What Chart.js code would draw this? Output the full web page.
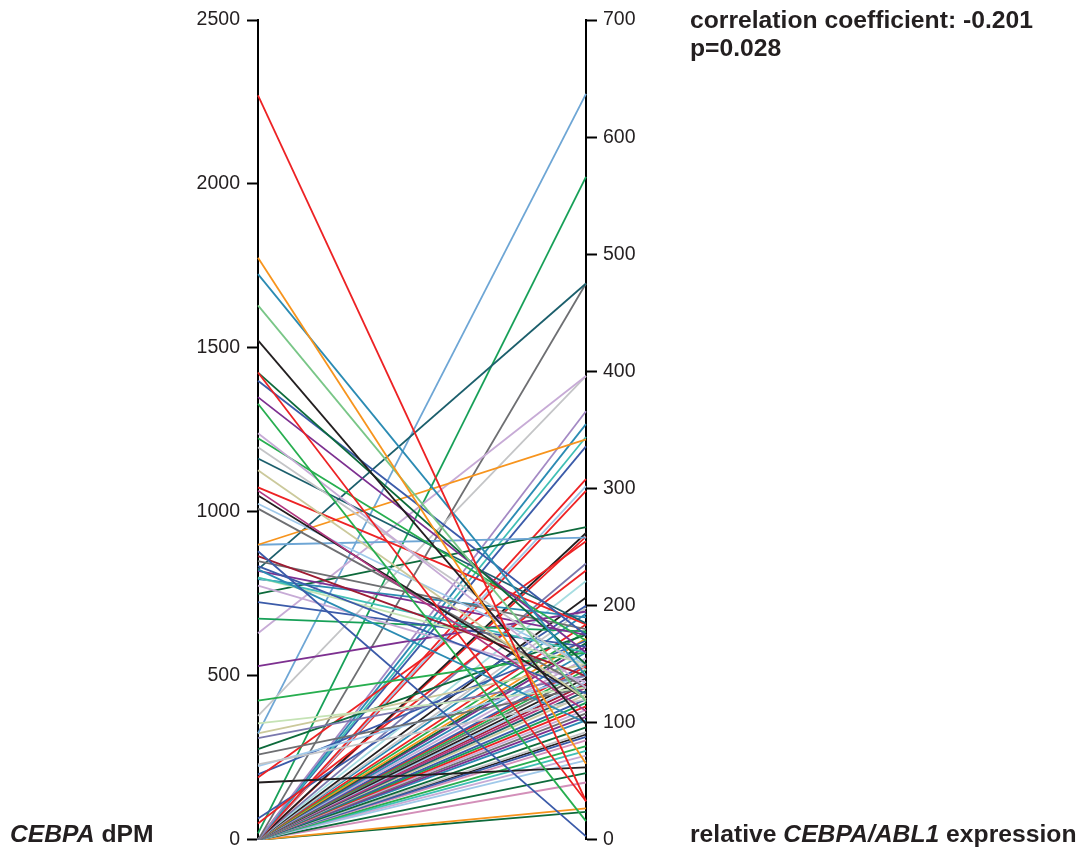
<!DOCTYPE html>
<html>
<head>
<meta charset="utf-8">
<script src="https://cdn.jsdelivr.net/npm/chart.js@4.4.1/dist/chart.umd.min.js"></script>
<style>
  html, body { margin: 0; padding: 0; background: #fff; overflow: hidden; }
  #wrap { position: relative; width: 1081px; height: 847px; }
  canvas { position: absolute; left: 0; top: 0; }
  .lbl {
    position: absolute; font-family: 'Liberation Sans', Arial, sans-serif;
    font-weight: bold; font-size: 24.7px; color: #231f20; white-space: nowrap;
  }
</style>
</head>
<body>
<div id="wrap">
  <canvas id="chart" width="1081" height="847"></canvas>
  <div class="lbl" style="left:10px; top:822px; line-height:24px;"><i>CEBPA</i> dPM</div>
  <div class="lbl" style="left:690px; top:822px; line-height:24px;">relative <i>CEBPA/ABL1</i> expression</div>
  <div class="lbl" style="left:690px; top:6px; line-height:28px;">correlation coefficient: -0.201<br>p=0.028</div>
</div>
<script>
'use strict'

// CEBPA dPM (left axis) and relative CEBPA/ABL1 expression (right axis), one entry per sample
const leftValues = [
  2270, 1775, 1725, 1630, 1523, 1425, 1425, 1400, 1350, 1330,
  1240, 1225, 1197, 1163, 1127, 1075, 1065, 1050, 1025, 1010,
  900, 900, 880, 865, 850, 835, 825, 825, 820, 800,
  800, 795, 775, 750, 725, 675, 630, 530, 425, 378,
  355, 325, 325, 310, 277, 260, 230, 225, 190, 175,
  200, 50, 65, 20,
  0, 0, 0, 0, 0, 0, 0, 0, 0, 0,
  0, 0, 0, 0, 0, 0, 0, 0, 0, 0,
  0, 0, 0, 0, 0, 0, 0, 0, 0, 0,
  0, 0, 0, 0, 0, 0, 0, 0, 0, 0,
  0, 0, 0, 0, 0, 0, 0, 0, 0, 0,
  0, 0
]
const rightValues = [
  33, 65, 140, 118, 99, 33, 150, 175, 160, 16,
  130, 170, 145, 185, 120, 184, 110, 120, 150, 130,
  342, 258, 3, 140, 180, 125, 475, 100, 175, 160,
  150, 190, 135, 267, 165, 178, 396, 195, 160, 396,
  130, 637, 150, 140, 175, 130, 120, 140, 255, 62,
  170, 230, 200, 566,
  475, 366, 355, 344, 336, 308, 302, 298, 262, 259,
  236, 221, 207, 198, 193, 184, 178, 172, 168, 165,
  160, 155, 150, 148, 145, 142, 138, 135, 130, 127,
  124, 120, 117, 114, 111, 108, 105, 102, 96, 92,
  88, 85, 80, 76, 72, 68, 57, 49, 27, 24,
  90, 133
]
const lineColors = [
  'red', 'orange', 'teal', 'ltgreen', 'black', 'red', 'dkgreen', 'blue', 'purple', 'green',
  'lavender', 'green', 'ltgray', 'dkteal', 'khaki', 'red', 'magenta', 'black', 'ltblue', 'gray',
  'orange', 'steel', 'blue', 'dkred', 'gray', 'blue', 'dkteal', 'teal', 'purple', 'turq',
  'palegreen', 'teal', 'lavender', 'dkgreen', 'blue', 'medgreen', 'lavender', 'purple', 'green', 'ltgray',
  'palegreen', 'steel', 'khaki', 'slate', 'dkgreen', 'gray', 'ltgray', 'ltblue', 'red', 'black',
  'blue', 'red', 'blue', 'medgreen',
  'gray', 'mauve', 'teal', 'turq', 'blue', 'red', 'ltblue', 'red', 'black', 'red',
  'slate', 'cyan', 'black', 'ltgray', 'teal', 'red', 'green', 'orange', 'dkgreen', 'purple',
  'teal', 'lavender', 'blue', 'red', 'green', 'gray', 'black', 'ltblue', 'magenta', 'dkteal',
  'khaki', 'blue', 'medgreen', 'red', 'lavender', 'gray', 'purple', 'teal', 'dkgreen', 'ltgray',
  'blue', 'pink', 'green', 'turq', 'lavender', 'ltblue', 'dkgreen', 'pink', 'orange', 'dkgreen',
  'black', 'dkred'
]
const leftTicks = [0, 500, 1000, 1500, 2000, 2500]
const rightTicks = [0, 100, 200, 300, 400, 500, 600, 700]

const palette = {
  red: '#ed2224', orange: '#f7941d', teal: '#2b8bb3', ltgreen: '#79c687',
  black: '#231f20', dkgreen: '#0d6a3b', blue: '#3b5ba9', purple: '#7d3090',
  green: '#27ae4f', lavender: '#c7abd6', ltgray: '#c4c5c7', dkteal: '#1c5f6c',
  khaki: '#cbc99b', magenta: '#b2367f', ltblue: '#a0c9ea', steel: '#6ea6d5',
  gray: '#6e6f72', cyan: '#a6dde1', slate: '#7a78ad', dkred: '#9e1b32',
  medgreen: '#17a058', pink: '#d38fb9', palegreen: '#c5e3b5', turq: '#3fbfb5',
  mauve: '#a48ac4'
}

const leftMax = leftTicks[leftTicks.length - 1]
const rightMax = rightTicks[rightTicks.length - 1]

function getDatasets () {
  const datasets = []
  leftValues.forEach((left, i) => {
    // right value placed on the left scale so both ends share one y scale
    datasets.push({
      data: [left, rightValues[i] * leftMax / rightMax],
      borderColor: palette[lineColors[i]],
      borderWidth: 1.8,
      pointRadius: 0,
      fill: false,
      tension: 0
    })
  })
  return datasets
}

// tiny lineHeight keeps the label half-height from eating into the bottom padding
const tickFont = { family: "'Liberation Sans', Arial, sans-serif", size: 19.5, lineHeight: 0.01 }

const chart = new Chart(document.getElementById('chart'), {
  type: 'line',
  data: { labels: ['dPM', 'expression'], datasets: getDatasets() },
  options: {
    responsive: false,
    animation: false,
    layout: { padding: { top: 20, bottom: 0, left: 0, right: 0 } },
    plugins: { legend: { display: false }, tooltip: { enabled: false } },
    scales: {
      x: { display: false, offset: false },
      y: {
        position: 'left',
        min: 0,
        max: leftMax,
        afterBuildTicks: scale => { scale.ticks = leftTicks.map(v => ({ value: v })) },
        afterFit: scale => { scale.width = 258 },
        ticks: { color: '#231f20', font: tickFont, padding: 7, callback: v => String(v) },
        grid: { drawOnChartArea: false, tickLength: 11, tickWidth: 2, color: '#000' },
        border: { display: true, color: '#000', width: 2 }
      },
      y2: {
        position: 'right',
        min: 0,
        max: rightMax,
        afterBuildTicks: scale => { scale.ticks = rightTicks.map(v => ({ value: v })) },
        afterFit: scale => { scale.width = 1081 - 586 },
        ticks: { color: '#231f20', font: tickFont, padding: 6, callback: v => String(v) },
        grid: { drawOnChartArea: false, tickLength: 11, tickWidth: 2, color: '#000' },
        border: { display: true, color: '#000', width: 2 }
      }
    }
  }
})
</script>
</body>
</html>
